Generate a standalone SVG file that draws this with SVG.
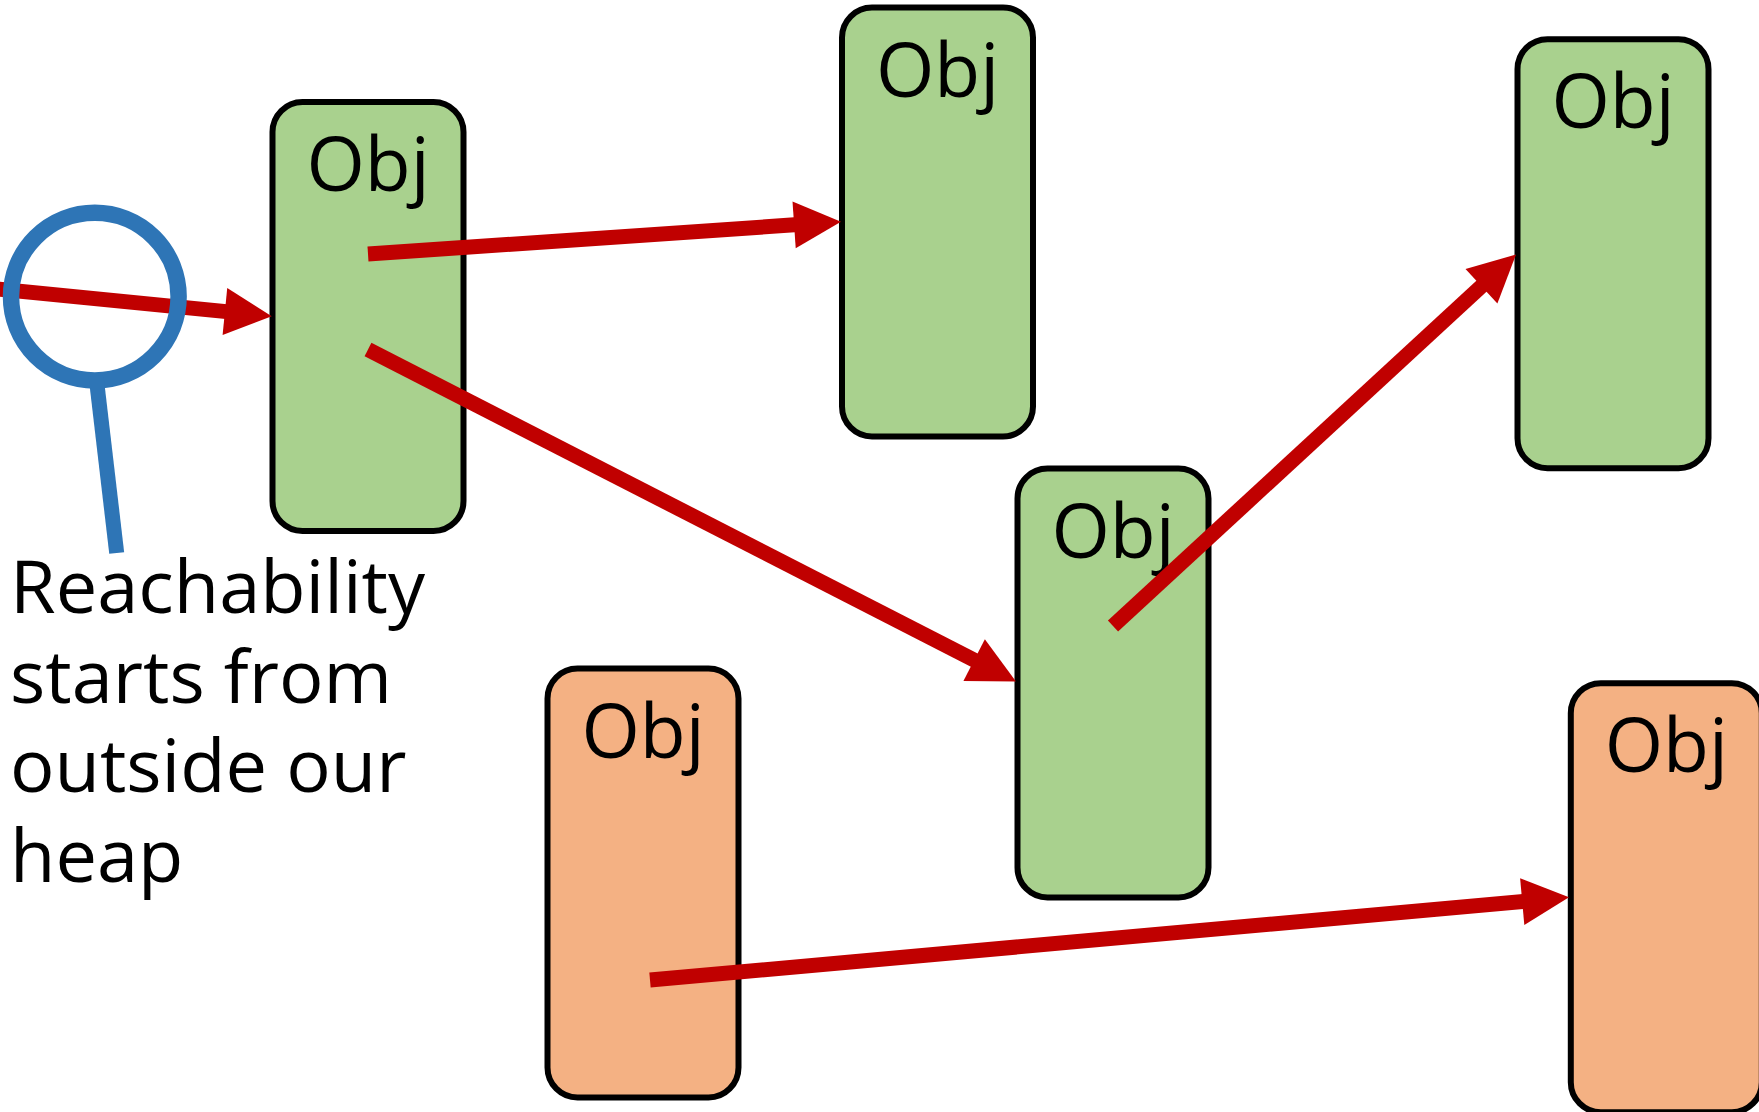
<svg xmlns="http://www.w3.org/2000/svg" width="1759" height="1112" viewBox="0 0 1759 1112">
<style>
.box{stroke:#000;stroke-width:6}
.live{fill:#A9D18E}
.dead{fill:#F4B183}
.lbl{font-family:"Open Sans","Liberation Sans",sans-serif;font-size:75px;fill:#000;text-anchor:middle}
.note{font-family:"Open Sans","Liberation Sans",sans-serif;font-size:74px;fill:#000}
.ref{stroke:#C00000;stroke-width:15;fill:none;marker-end:url(#ah)}
</style>
<defs>
<marker id="ah" markerUnits="userSpaceOnUse" markerWidth="60" markerHeight="60" viewBox="-5 -30 60 60" refX="4" refY="0" orient="auto" overflow="visible">
<path d="M0,-23.5 L47,0 L0,23.5 z" fill="#C00000"/>
</marker>
</defs>
<rect width="1759" height="1112" fill="#fff"/>
<g id="obj1"><rect class="box live" x="272.5" y="102" width="191" height="429" rx="30"/><text class="lbl" x="368" y="190.5">Obj</text></g>
<g id="obj2"><rect class="box live" x="842" y="7.5" width="191" height="429" rx="30"/><text class="lbl" x="937.5" y="96.5">Obj</text></g>
<g id="obj3"><rect class="box live" x="1517.5" y="39.2" width="191" height="429" rx="30"/><text class="lbl" x="1613" y="128.2">Obj</text></g>
<g id="obj4"><rect class="box live" x="1017.5" y="468.5" width="191" height="429" rx="30"/><text class="lbl" x="1113" y="557.5">Obj</text></g>
<g id="obj5"><rect class="box dead" x="547.5" y="668.5" width="191" height="429" rx="30"/><text class="lbl" x="643" y="757.5">Obj</text></g>
<g id="obj6"><rect class="box dead" x="1570.8" y="683.2" width="191" height="429" rx="30"/><text class="lbl" x="1666.3" y="772.2">Obj</text></g>
<g id="connectors">
<line class="ref" x1="-5" y1="288.8" x2="228.9" y2="311.9"/>
<line class="ref" x1="368" y1="254" x2="798.1" y2="224.6"/>
<line class="ref" x1="368" y1="349.5" x2="977.7" y2="661.9"/>
<line class="ref" x1="1113" y1="626" x2="1484.4" y2="283.6"/>
<line class="ref" x1="650" y1="980" x2="1526.2" y2="901.2"/>
</g>
<g id="root">
<circle cx="94.8" cy="296.6" r="83.8" fill="none" stroke="#2E75B6" stroke-width="16.5"/>
<line x1="96" y1="376" x2="116.7" y2="553" stroke="#2E75B6" stroke-width="15"/>
<text class="note"><tspan x="10" y="613.3">Reachability</tspan><tspan x="10" y="703.3">starts from</tspan><tspan x="10" y="791.7">outside our</tspan><tspan x="10" y="881.7">heap</tspan></text>
</g>
</svg>
